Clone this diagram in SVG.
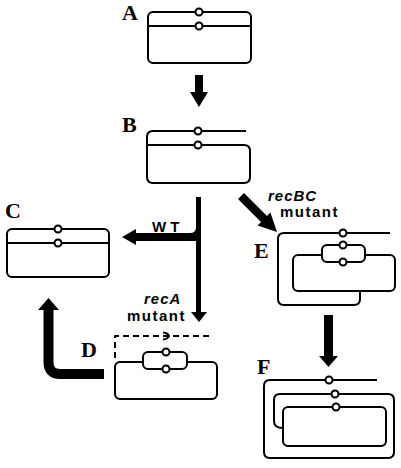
<svg xmlns="http://www.w3.org/2000/svg" width="401" height="468" viewBox="0 0 401 468">
<style>
.s{fill:none;stroke:#000;stroke-width:2;stroke-linejoin:round}
.w{fill:#fff;stroke:#000;stroke-width:2}
.c{fill:#fff;stroke:#000;stroke-width:2}
.lab{font-family:"Liberation Serif",serif;font-weight:bold;font-size:22px;fill:#000}
.t{font-family:"Liberation Sans",Arial,sans-serif;font-weight:bold;font-size:15px;fill:#000}
.wt{font-family:"Liberation Sans",Arial,sans-serif;font-weight:bold;font-size:15px;fill:#000;letter-spacing:4px}
.i{font-style:italic}
.a{fill:#000}
</style>
<rect width="401" height="468" fill="#fff"/>
<g id="connectors">
  <polygon class="a" points="195,75 203,75 203,92 208,92 199,107 190,92 195,92"/>
  <path class="a" d="M196,197 H201 V312 H207 L199,322 L191,312 H196 V241 H136 V245 L122,237 L136,229 V233 H190 Q196,233 196,227 Z"/>
  <path class="a" d="M238,199 L244,193 L267,216 L270.4,212.6 L277,232 L257.6,225.4 L261,222 Z"/>
  <polygon class="a" points="324,315 333,315 333,356 338,356 328.5,367 319,356 324,356"/>
  <path d="M104,374 H60 Q48.5,374 48.5,362 V308" fill="none" stroke="#000" stroke-width="10"/>
  <polygon class="a" points="38,310 59,310 48.5,298"/>
</g>
<g id="A">
  <text class="lab" x="122" y="20">A</text>
  <rect class="s" x="148" y="12" width="103" height="51" rx="5"/>
  <line class="s" x1="148" y1="26" x2="251" y2="26"/>
  <circle class="c" cx="199" cy="12" r="3.5"/>
  <circle class="c" cx="199" cy="26" r="3.5"/>
</g>
<g id="B">
  <text class="lab" x="122" y="132">B</text>
  <path class="s" d="M246,131 H153 Q147,131 147,137 V177 Q147,183 153,183 H244 Q250,183 250,177 V151 Q250,145 244,145 H147"/>
  <circle class="c" cx="198" cy="131" r="3.5"/>
  <circle class="c" cx="198" cy="145" r="3.5"/>
</g>
<g id="C">
  <text class="lab" x="5" y="218">C</text>
  <rect class="s" x="7" y="229" width="102" height="48" rx="5"/>
  <line class="s" x1="7" y1="243" x2="109" y2="243"/>
  <circle class="c" cx="58" cy="229" r="3.5"/>
  <circle class="c" cx="58" cy="243" r="3.5"/>
  <text class="wt" x="152" y="232">WT</text>
</g>
<g id="D">
  <text class="t i" x="144" y="304" letter-spacing="1">recA</text>
  <text class="t" x="127" y="321" letter-spacing="1.5">mutant</text>
  <text class="lab" x="81" y="357">D</text>
  <path class="s" d="M115,358 V336 H212" stroke-dasharray="6,4"/>
  <path class="s" d="M163,332.5 Q168,333 169,336 Q168,339 163,339.5" stroke-width="1.6"/>
  <rect class="s" x="115" y="362" width="102" height="37" rx="5"/>
  <rect class="w" x="143" y="352" width="44" height="17" rx="5"/>
  <circle class="c" cx="166" cy="352" r="3.5"/>
  <circle class="c" cx="166" cy="369" r="3.5"/>
</g>
<g id="E">
  <text class="t i" x="268" y="201" letter-spacing="1">recBC</text>
  <text class="t" x="280" y="217" letter-spacing="1.5">mutant</text>
  <text class="lab" x="254" y="258">E</text>
  <path class="s" d="M390,233 H284 Q278,233 278,239 V299 Q278,305 284,305 H354 Q360,305 360,299 V291"/>
  <rect class="s" x="293" y="255" width="102" height="36" rx="5"/>
  <rect class="w" x="322" y="245" width="43" height="17" rx="5"/>
  <circle class="c" cx="343" cy="233" r="3.5"/>
  <circle class="c" cx="343" cy="245" r="3.5"/>
  <circle class="c" cx="343" cy="262" r="3.5"/>
</g>
<g id="F">
  <text class="lab" x="257" y="374">F</text>
  <path class="s" d="M377,380 H270 Q264,380 264,386 V452 Q264,458 270,458 H388 Q394,458 394,452 V400 Q394,394 388,394 H280 Q274,394 274,400 V421 Q274,428 283,428"/>
  <rect class="s" x="283" y="407" width="103" height="39" rx="5"/>
  <circle class="c" cx="329" cy="380" r="3.5"/>
  <circle class="c" cx="335" cy="394" r="3.5"/>
  <circle class="c" cx="336" cy="407" r="3.5"/>
</g>
</svg>
